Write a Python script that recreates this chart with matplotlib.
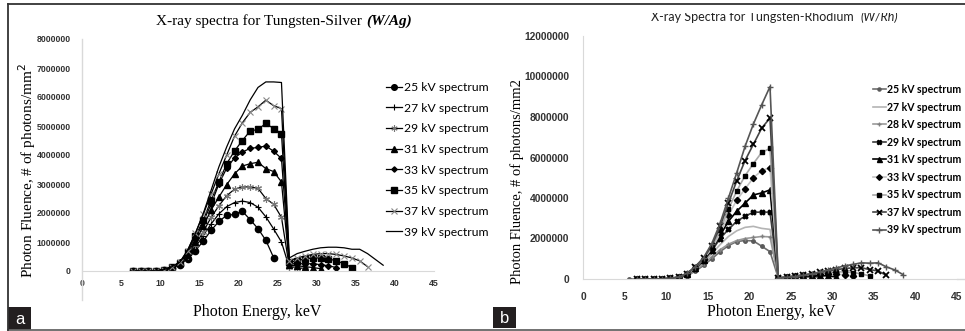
import matplotlib
matplotlib.use("Agg")
import matplotlib.pyplot as plt
import numpy as np
from matplotlib.lines import Line2D
from matplotlib.patches import Rectangle
from matplotlib.transforms import Bbox

# ---- Daten (Einheiten: 1e6 Photonen/mm2) ----
# W/Ag: Energien 6.5 ... 38.5 keV
energy_ag = [6.5, 7.5, 8.5, 9.5, 10.5, 11.5, 12.5, 13.5, 14.5, 15.5, 16.5, 17.5, 18.5,
             19.5, 20.5, 21.5, 22.5, 23.5, 24.5, 25.5, 26.5, 27.5, 28.5, 29.5, 30.5,
             31.5, 32.5, 33.5, 34.5, 35.5, 36.5, 37.5, 38.5]
ag25 = [0, 0, 0, 0.01, 0.04, 0.1, 0.22, 0.42, 0.7, 1.03, 1.4, 1.71, 1.92, 1.95, 2.06,
        1.77, 1.46, 1.06, 0.46]
ag27 = [0, 0, 0, 0.01, 0.04, 0.11, 0.24, 0.48, 0.82, 1.22, 1.62, 1.97, 2.22, 2.36, 2.41,
        2.36, 2.2, 1.87, 1.45, 1.0, 0.12]
ag29 = [0, 0, 0, 0.01, 0.04, 0.12, 0.26, 0.52, 0.9, 1.35, 1.85, 2.25, 2.6, 2.82, 2.9,
        2.9, 2.85, 2.5, 2.3, 1.85, 0.15, 0.12, 0.08]
ag31 = [0, 0, 0, 0.01, 0.05, 0.12, 0.28, 0.55, 1.0, 1.55, 2.1, 2.55, 2.98, 3.35, 3.62,
        3.7, 3.75, 3.53, 3.43, 3.07, 0.2, 0.18, 0.15, 0.12, 0.08]
ag33 = [0, 0, 0, 0.01, 0.05, 0.13, 0.3, 0.6, 1.1, 1.7, 2.3, 3.0, 3.55, 3.9, 4.1, 4.23,
        4.26, 4.31, 4.13, 3.88, 0.25, 0.25, 0.25, 0.25, 0.22, 0.18, 0.12]
ag35 = [0, 0, 0, 0.01, 0.05, 0.14, 0.29, 0.66, 1.2, 1.75, 2.44, 3.07, 3.7, 4.14, 4.5,
        4.83, 4.88, 5.09, 4.91, 4.74, 0.3, 0.35, 0.42, 0.45, 0.45, 0.42, 0.35, 0.25, 0.12]
ag37 = [0, 0, 0, 0.01, 0.05, 0.15, 0.3, 0.7, 1.3, 1.95, 2.65, 3.35, 4.0, 4.65, 5.11,
        5.47, 5.66, 5.89, 5.7, 5.6, 0.35, 0.45, 0.52, 0.57, 0.6, 0.6, 0.57, 0.52, 0.45,
        0.35, 0.15]
ag39 = [0, 0, 0, 0.01, 0.05, 0.15, 0.3, 0.72, 1.3, 1.98, 2.78, 3.59, 4.28, 4.9, 5.37,
        5.9, 6.33, 6.52, 6.52, 6.5, 0.45, 0.6, 0.68, 0.75, 0.8, 0.82, 0.82, 0.8, 0.75,
        0.75, 0.6, 0.4, 0.2]

# W/Rh: Energien 5.5 ... 38.5 keV
energy_rh = [5.5, 6.5, 7.5, 8.5, 9.5, 10.5, 11.5, 12.5, 13.5, 14.5, 15.5, 16.5, 17.5,
             18.5, 19.5, 20.5, 21.5, 22.5, 23.5, 24.5, 25.5, 26.5, 27.5, 28.5, 29.5,
             30.5, 31.5, 32.5, 33.5, 34.5, 35.5, 36.5, 37.5, 38.5]
nan = np.nan
rh25 = [0, 0, 0, 0, 0.01, 0.03, 0.07, 0.17, 0.38, 0.67, 1.0, 1.35, 1.65, 1.85, 1.9,
        1.88, 1.62, 1.35, 0.05, 0.06]
rh27 = [nan, 0, 0, 0, 0.01, 0.03, 0.08, 0.2, 0.45, 0.82, 1.25, 1.7, 2.1, 2.38, 2.55,
        2.6, 2.5, 2.45, 0.05, 0.06, 0.07, 0.08]
rh28 = [nan, 0, 0, 0, 0.01, 0.03, 0.08, 0.2, 0.42, 0.75, 1.1, 1.45, 1.72, 1.9, 2.0,
        2.05, 2.1, 2.08, 0.05, 0.07, 0.08, 0.09, 0.1]
rh29 = [nan, 0, 0, 0, 0.01, 0.03, 0.08, 0.22, 0.5, 0.9, 1.4, 2.0, 2.45, 2.85, 3.1,
        3.3, 3.3, 3.3, 0.05, 0.08, 0.1, 0.12, 0.12, 0.1]
rh31 = [nan, 0, 0, 0, 0.01, 0.03, 0.08, 0.23, 0.52, 0.95, 1.45, 2.15, 2.85, 3.35, 3.75,
        4.15, 4.25, 4.4, 0.05, 0.09, 0.12, 0.15, 0.17, 0.17, 0.15, 0.1]
rh33 = [nan, 0, 0, 0, 0.01, 0.03, 0.09, 0.24, 0.55, 1.0, 1.5, 2.25, 3.15, 3.9, 4.45,
        5.0, 5.35, 5.5, 0.05, 0.1, 0.14, 0.18, 0.22, 0.25, 0.27, 0.25, 0.2, 0.15]
rh35 = [nan, 0, 0, 0, 0.01, 0.03, 0.09, 0.25, 0.57, 1.0, 1.6, 2.4, 3.45, 4.35, 5.1,
        5.7, 6.25, 6.45, 0.05, 0.1, 0.15, 0.2, 0.25, 0.3, 0.33, 0.35, 0.35, 0.32, 0.25,
        0.15]
rh37 = [nan, 0, 0, 0, 0.01, 0.03, 0.1, 0.27, 0.6, 1.02, 1.65, 2.6, 3.75, 4.85, 5.85,
        6.65, 7.45, 7.95, 0.05, 0.1, 0.15, 0.2, 0.26, 0.33, 0.4, 0.46, 0.52, 0.55, 0.56,
        0.46, 0.4, 0.18]
rh39 = [nan, 0, 0, 0, 0.01, 0.03, 0.1, 0.28, 0.6, 1.05, 1.75, 2.75, 4.0, 5.25, 6.55,
        7.65, 8.6, 9.5, 0.05, 0.08, 0.12, 0.18, 0.25, 0.35, 0.45, 0.55, 0.65, 0.72, 0.8,
        0.78, 0.8, 0.6, 0.45, 0.22]

ag_labels = ['25 kV spectrum', '27 kV spectrum', '29 kV spectrum', '31 kV spectrum',
             '33 kV spectrum', '35 kV spectrum', '37 kV spectrum', '39 kV spectrum']
rh_labels = ['25 kV spectrum', '27 kV spectrum', '28 kV spectrum', '29 kV spectrum',
             '31 kV spectrum', '33 kV spectrum', '35 kV spectrum', '37 kV spectrum',
             '39 kV spectrum']
ag_ticks = [0, 1000000, 2000000, 3000000, 4000000, 5000000, 6000000, 7000000, 8000000]
rh_ticks = [0, 2000000, 4000000, 6000000, 8000000, 10000000, 12000000]
x_ticks = [0, 5, 10, 15, 20, 25, 30, 35, 40, 45]

W, H = 965, 331
fig = plt.figure(figsize=(W / 100, H / 100), dpi=100)


def fx(px):
    return px / W


def fy(py):
    return 1 - py / H


serif = 'Liberation Serif'
sans = 'Liberation Sans'
legfont = 'Lato'

# ---- Panel a ----
ax1 = fig.add_axes([fx(82), fy(271), fx(434) - fx(82), fy(39) - fy(271)])
ag_series = [ag25, ag27, ag29, ag31, ag33, ag35, ag37, ag39]
ag_styles = [
    dict(marker='o', ms=4.5, mfc='black', mec='black'),
    dict(marker='+', ms=5, mec='black', mew=0.8),
    dict(marker=(6, 2, 0), ms=5, mec='#777777', mew=0.8),
    dict(marker='^', ms=4.5, mfc='black', mec='black'),
    dict(marker='D', ms=3, mfc='black', mec='black'),
    dict(marker='s', ms=5, mfc='black', mec='black'),
    dict(marker='x', ms=4.5, mec='#888888', mew=0.8),
    dict(marker=None),
]
for vals, lab, st in zip(ag_series, ag_labels, ag_styles):
    ax1.plot(energy_ag[:len(vals)], np.array(vals) * 1e6, color='black', lw=0.9,
             label=lab, **st)
ax1.set_xlim(0, 45)
ax1.set_ylim(0, 8000000)
ax1.set_xticks(x_ticks)
ax1.set_yticks(ag_ticks)
ax1.set_yticklabels([str(t) for t in ag_ticks])
ax1.tick_params(axis='y', length=0, labelsize=6.3, colors='#333333', pad=8)
ax1.tick_params(axis='x', length=0, labelsize=6.3, colors='#333333', pad=6)
for lb in ax1.get_xticklabels() + ax1.get_yticklabels():
    lb.set_fontweight('bold')
    lb.set_family(sans)
for s in ['top', 'right']:
    ax1.spines[s].set_visible(False)
ax1.spines['bottom'].set_color('#d9d9d9')
ax1.spines['left'].set_visible(False)
ax1.plot([0, 0], [1, -0.125], transform=ax1.transAxes, color='#d9d9d9', lw=1,
         clip_on=False)
ax1.patch.set_alpha(0)
ax1.legend(loc='upper left', bbox_to_anchor=(fx(386), fy(82)), bbox_transform=fig.transFigure,
           frameon=False, prop={'family': legfont, 'size': 8.7}, handlelength=1.3,
           handletextpad=0.15, labelspacing=0.8, borderpad=0, borderaxespad=0,
           markerscale=0.9)

fig.text(fx(362), fy(21), 'X-ray spectra for Tungsten-Silver', family=serif, size=11,
         ha='right', va='center')
fig.text(fx(366), fy(21), '(W/Ag)', family=serif, size=11, ha='left', va='center',
         style='italic', weight='bold')
fig.text(fx(27), fy(171), 'Photon Fluence, # of photons/mm$^2$', family=serif, size=11,
         rotation=90, ha='center', va='center')
fig.text(fx(257), fy(312), 'Photon Energy, keV', family=serif, size=11.5,
         ha='center', va='center')

# ---- Panel b ----
ax2 = fig.add_axes([fx(583), fy(279), fx(957) - fx(583), fy(36) - fy(279)])
rh_series = [rh25, rh27, rh28, rh29, rh31, rh33, rh35, rh37, rh39]
rh_styles = [
    dict(color='#6e6e6e', marker='o', ms=2.5, mfc='#5a5a5a', mec='#5a5a5a'),
    dict(color='#b4b4b4', marker=None),
    dict(color='#9a9a9a', marker='+', ms=3, mec='#808080'),
    dict(color='#3c3c3c', marker='X', ms=3.5, mfc='black', mec='black'),
    dict(color='black', marker='^', ms=4, mfc='black', mec='black'),
    dict(color='#c4c4c4', marker='D', ms=3.2, mfc='black', mec='black'),
    dict(color='#a8a8a8', marker='s', ms=3.5, mfc='black', mec='black'),
    dict(color='#444444', marker='x', ms=4, mec='black', mew=1.3),
    dict(color='#555555', marker='+', ms=4.5, mec='#555555', mew=1),
]
for vals, lab, st in zip(rh_series, rh_labels, rh_styles):
    ax2.plot(energy_rh[:len(vals)], np.array(vals) * 1e6, lw=1.2, label=lab, **st)
ax2.set_xlim(0, 45)
ax2.set_ylim(0, 12000000)
ax2.set_xticks(x_ticks)
ax2.set_yticks(rh_ticks)
ax2.set_yticklabels([str(t) for t in rh_ticks])
ax2.tick_params(axis='y', length=0, labelsize=7.4, colors='#333333', pad=10)
ax2.tick_params(axis='x', length=0, labelsize=7.4, colors='#333333', pad=9)
for lb in ax2.get_xticklabels() + ax2.get_yticklabels():
    lb.set_fontweight('bold')
    lb.set_family(sans)
for s in ['top', 'right']:
    ax2.spines[s].set_visible(False)
ax2.spines['bottom'].set_color('#d9d9d9')
ax2.spines['left'].set_color('#d9d9d9')
ax2.plot([1, 1.02], [0, 0], transform=ax2.transAxes, color='#d9d9d9', lw=1,
         clip_on=False)
ax2.patch.set_alpha(0)
ax2.legend(loc='upper left', bbox_to_anchor=(fx(873), fy(84)), bbox_transform=fig.transFigure,
           frameon=False, prop={'family': legfont, 'size': 7.6, 'weight': 'bold'},
           handlelength=1.2, handletextpad=0.15, labelspacing=0.62, borderpad=0,
           borderaxespad=0, markerscale=0.9)

clip = Bbox([[0, 0], [W, H - 12.5]])
t1 = fig.text(fx(857), fy(21), 'X-ray Spectra for Tungsten-Rhodium ', family=legfont,
              size=9.0, ha='right', va='baseline', color='#222222', clip_on=True)
t2 = fig.text(fx(860), fy(21), '(W/Rh)', family=legfont, size=9.0, ha='left',
              va='baseline', style='italic', color='#222222', clip_on=True)
t1.set_clip_box(clip)
t2.set_clip_box(clip)
fig.text(fx(517), fy(182), 'Photon Fluence, # of photons/mm2', family=serif, size=10.5,
         rotation=90, ha='center', va='center')
fig.text(fx(771), fy(312), 'Photon Energy, keV', family=serif, size=11.5,
         ha='center', va='center')

# ---- Rahmen und Panel-Buchstaben ----
fig.add_artist(Line2D([fx(8), 1], [fy(4.3), fy(4.3)], color='#333333', lw=1.3))
fig.add_artist(Line2D([fx(8), 1], [fy(329.5), fy(329.5)], color='#666666', lw=1.3))
fig.add_artist(Line2D([fx(8), fx(8)], [fy(4.3), fy(329.5)], color='#333333', lw=1.3))
for x0, x1, y0, y1, lab in [(8, 31, 307, 330, 'a'), (493, 516, 307, 328, 'b')]:
    fig.add_artist(Rectangle((fx(x0), fy(y1)), fx(x1) - fx(x0), fy(y0) - fy(y1),
                             transform=fig.transFigure, color='#231f20', lw=0))
    fig.text(fx((x0 + x1) / 2), fy((y0 + y1) / 2 + 1), lab, color='white', family=sans,
             size=12, ha='center', va='center')

fig.savefig('out.png', dpi=100)
